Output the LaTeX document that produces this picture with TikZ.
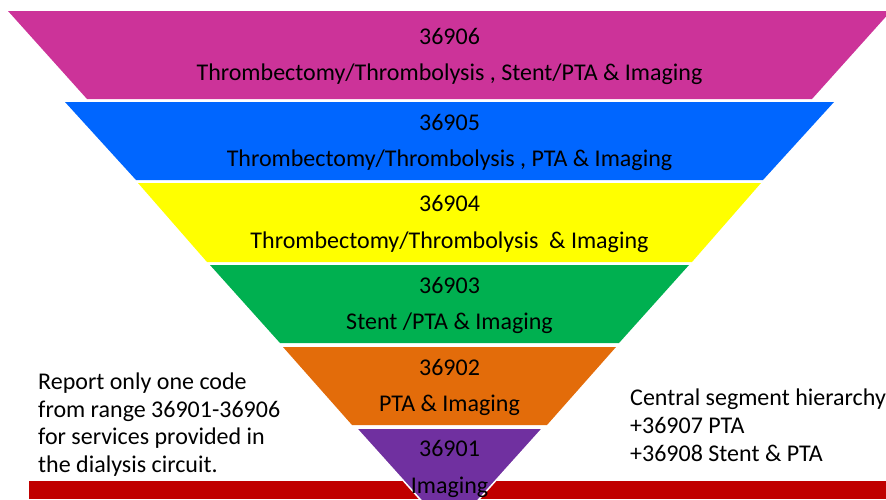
\documentclass[tikz,border=0pt]{standalone}
\usepackage{fontspec}
\setmainfont{Carlito}
\definecolor{magL}{RGB}{204,51,153}
\definecolor{bluL}{RGB}{0,102,255}
\definecolor{yelL}{RGB}{255,255,0}
\definecolor{grnL}{RGB}{0,176,80}
\definecolor{orgL}{RGB}{227,108,10}
\definecolor{purL}{RGB}{112,48,160}
\definecolor{barR}{RGB}{192,0,0}
\begin{document}
\begin{tikzpicture}[x=1pt,y=-1pt,
  lbl/.style={font=\fontsize{24}{28}\selectfont, text=black, inner sep=0pt, anchor=base},
  side/.style={lbl, anchor=base west},
  layer/.style={draw=none}]
\useasboundingbox (0,0) rectangle (886,499);
\clip (0,0) rectangle (886,499);
% red bar
\fill[barR] (29,481) rectangle (886,499);
% funnel layers
\fill[layer, magL] (8,11) -- (891,11) -- (812,99) -- (87,99) -- cycle;
\fill[layer, bluL] (65,102) -- (834,102) -- (763,180) -- (136,180) -- cycle;
\fill[layer, yelL] (138,183) -- (761,183) -- (692,262) -- (207,262) -- cycle;
\fill[layer, grnL] (210,265) -- (689,265) -- (619,343) -- (280,343) -- cycle;
\fill[layer, orgL] (283,347) -- (616,347) -- (547,425) -- (352,425) -- cycle;
\filldraw[purL, draw=white, line width=1.5] (356,428) -- (543,428) -- (449.5,532) -- cycle;
% labels
\node[lbl] (c6) at (449.5,44) {36906};
\node[lbl] (t6) at (449.5,80.5) {Thrombectomy/Thrombolysis , Stent/PTA \& Imaging};
\node[lbl] (c5) at (449.5,130) {36905};
\node[lbl] (t5) at (449.5,166.5) {Thrombectomy/Thrombolysis , PTA \& Imaging};
\node[lbl] (c4) at (449.5,211.5) {36904};
\node[lbl] (t4) at (449.5,248) {Thrombectomy/Thrombolysis \ \& Imaging};
\node[lbl] (c3) at (449.5,293) {36903};
\node[lbl] (t3) at (449.5,329.5) {Stent /PTA \& Imaging};
\node[lbl] (c2) at (449.5,375) {36902};
\node[lbl] (t2) at (449.5,411.5) {PTA \& Imaging};
\node[lbl] (c1) at (449.5,456.7) {36901};
\node[lbl] (t1) at (449.5,493.3) {Imaging};
% side notes
\node[side] (l1) at (38,389.3) {Report only one code};
\node[side] (l2) at (38,417.1) {from range 36901-36906};
\node[side] (l3) at (38,444.9) {for services provided in};
\node[side] (l4) at (38,472.7) {the dialysis circuit.};
\node[side] (r1) at (630,405) {Central segment hierarchy};
\node[side] (r2) at (630,433) {+36907 PTA};
\node[side] (r3) at (630,461) {+36908 Stent \& PTA};
\end{tikzpicture}
\end{document}
